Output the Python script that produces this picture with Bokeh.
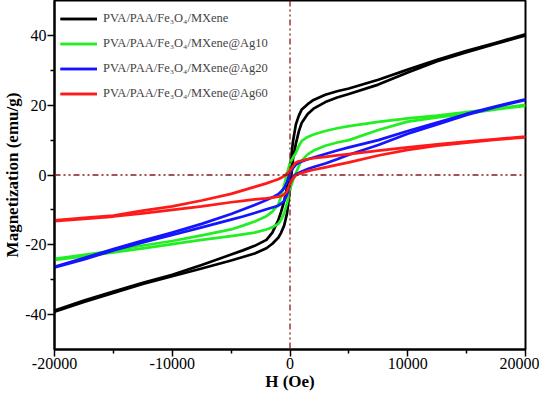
from bokeh.plotting import figure
from bokeh.models import Range1d, FixedTicker, Span, Legend, LegendItem
from bokeh.embed import file_html
from bokeh.resources import INLINE

# ---- data ----
H = [-20000, -17500, -15000, -12500, -10000, -7500, -5000, -4000, -3000, -2000,
     -1500, -1000, -750, -500, -250, 0, 250, 500, 750, 1000, 1500, 2000, 3000,
     4000, 5000, 7500, 10000, 12500, 15000, 17500, 20000]

# descending branch (upper) and ascending branch (lower), emu/g
black_down = [-38.8, -36.0, -33.4, -30.9, -28.6, -25.8, -22.8, -21.6, -20.3, -18.6,
              -16.5, -13.0, -10.5, -7.5, -3.5, 2.0, 9.5, 14.5, 17.0, 18.8, 20.3,
              21.5, 23.0, 24.0, 24.8, 27.3, 30.2, 33.0, 35.6, 37.9, 40.3]
black_up = [-39.2, -36.4, -33.8, -31.2, -29.0, -26.8, -24.5, -23.5, -22.5, -21.0,
            -19.7, -18.0, -16.5, -14.5, -11.0, -4.0, 4.5, 9.0, 12.5, 15.0, 17.5,
            19.0, 20.9, 22.2, 23.2, 25.9, 29.4, 32.6, 35.2, 37.6, 40.0]

green_down = [-24.0, -22.9, -21.7, -20.2, -18.9, -17.3, -15.6, -14.5, -13.3, -11.8,
              -10.5, -8.5, -6.0, -3.0, 0.5, 3.5, 5.0, 6.3, 8.3, 9.8, 10.9,
              11.6, 12.6, 13.4, 14.0, 15.2, 16.2, 17.0, 18.0, 19.0, 20.1]
green_up = [-24.3, -23.3, -22.2, -21.0, -19.8, -18.6, -17.5, -17.0, -16.5, -15.6,
            -15.0, -14.0, -12.8, -11.0, -8.0, -4.0, -1.5, 0.5, 2.6, 4.2, 5.9,
            7.0, 8.4, 9.3, 10.0, 12.9, 15.3, 16.5, 17.6, 18.8, 19.8]

blue_down = [-26.3, -23.8, -21.2, -18.8, -16.5, -14.0, -11.2, -9.9, -8.6, -7.2,
             -6.4, -5.5, -4.7, -3.8, -2.0, 0.5, 2.0, 3.0, 3.5, 3.9, 4.5,
             5.0, 6.0, 7.0, 7.9, 10.0, 12.6, 15.0, 17.5, 19.7, 21.7]
blue_up = [-26.5, -24.2, -21.6, -19.3, -17.2, -15.0, -12.8, -11.9, -10.9, -9.8,
           -9.3, -8.8, -8.2, -7.5, -5.5, -2.5, -0.5, 0.2, 0.6, 1.0, 1.7,
           2.3, 3.3, 4.5, 5.8, 8.6, 11.8, 14.5, 17.2, 19.5, 21.5]

red_down = [-13.0, -12.3, -11.6, -10.2, -9.0, -7.3, -5.4, -4.4, -3.4, -2.4,
            -1.8, -1.2, -0.8, -0.3, 0.4, 1.3, 2.5, 3.6, 3.9, 4.1, 4.5,
            4.8, 5.2, 5.6, 6.0, 7.0, 7.9, 8.8, 9.6, 10.3, 11.0]
red_up = [-13.2, -12.6, -11.9, -11.0, -10.0, -9.0, -7.8, -7.4, -7.0, -6.7,
          -6.5, -6.2, -6.0, -5.6, -4.6, -2.5, -1.0, -0.1, 0.3, 0.6, 1.1,
          1.5, 2.2, 2.9, 3.6, 5.6, 7.2, 8.4, 9.3, 10.1, 10.8]

series_names = ["PVA/PAA/Fe\u2083O\u2084/MXene",
                "PVA/PAA/Fe\u2083O\u2084/MXene@Ag10",
                "PVA/PAA/Fe\u2083O\u2084/MXene@Ag20",
                "PVA/PAA/Fe\u2083O\u2084/MXene@Ag60"]
series_colors = ["#000000", "#22EE22", "#1414FF", "#FF1A1A"]
series_data = [(black_down, black_up), (green_down, green_up),
               (blue_down, blue_up), (red_down, red_up)]

x_ticks = [-20000, -10000, 0, 10000, 20000]
x_tick_labels = ["-20000", "-10000", "0", "10000", "20000"]
y_ticks = [-40, -20, 0, 20, 40]
y_tick_labels = ["-40", "-20", "0", "20", "40"]

FONT = "Liberation Serif"

p = figure(width=539, height=393, output_backend="svg", toolbar_location=None,
           x_range=Range1d(-20000, 20000), y_range=Range1d(-50, 50),
           min_border_left=44, min_border_right=14, min_border_top=0,
           min_border_bottom=38)
p.background_fill_color = "white"
p.border_fill_color = "white"
p.grid.visible = False
p.outline_line_color = "black"
p.outline_line_width = 2

# zero reference lines
for dim, loc in (("width", 0), ("height", 0)):
    p.add_layout(Span(location=loc, dimension=dim, line_color="#8B1A1A",
                      line_width=1.3, line_dash="6 3 2 3 2 3"))

items = []
for name, color, (down, up) in zip(series_names, series_colors, series_data):
    r1 = p.line(H[::-1], down[::-1], line_color=color, line_width=2.7,
                line_join="round")
    r2 = p.line(H, up, line_color=color, line_width=2.7, line_join="round")
    items.append(LegendItem(label=name, renderers=[r1, r2]))

legend = Legend(items=items, location="top_left")
legend.border_line_alpha = 0
legend.background_fill_alpha = 0
legend.label_text_font = FONT
legend.label_text_font_size = "12.5px"
legend.glyph_width = 37
legend.glyph_height = 25
legend.label_height = 25
legend.spacing = 0
legend.padding = 0
legend.margin = 6
legend.label_standoff = 6
p.add_layout(legend)

for ax in (p.xaxis[0], p.yaxis[0]):
    ax.axis_line_width = 2
    ax.major_tick_line_width = 1.5
    ax.minor_tick_line_width = 1.5
    ax.major_tick_out = 7
    ax.major_tick_in = 0
    ax.minor_tick_out = 4
    ax.minor_tick_in = 0
    ax.major_label_text_font = FONT
    ax.major_label_text_font_size = "16px"
    ax.major_label_text_color = "black"
    ax.axis_label_text_font = FONT
    ax.axis_label_text_font_style = "bold"
    ax.axis_label_text_font_size = "17px"
    ax.axis_label_text_color = "black"
    ax.major_label_standoff = 1
    ax.axis_label_standoff = 0

p.xaxis.ticker = FixedTicker(ticks=x_ticks, minor_ticks=[-15000, -5000, 5000, 15000])
p.xaxis.major_label_overrides = dict(zip(x_ticks, x_tick_labels))
p.yaxis.ticker = FixedTicker(ticks=y_ticks, minor_ticks=[-30, -10, 10, 30])
p.yaxis.major_label_overrides = dict(zip(y_ticks, y_tick_labels))
p.xaxis.axis_label = "H (Oe)"
p.yaxis.axis_label = "Magnetization (emu/g)"

open("out.html", "w").write(file_html(p, INLINE))
